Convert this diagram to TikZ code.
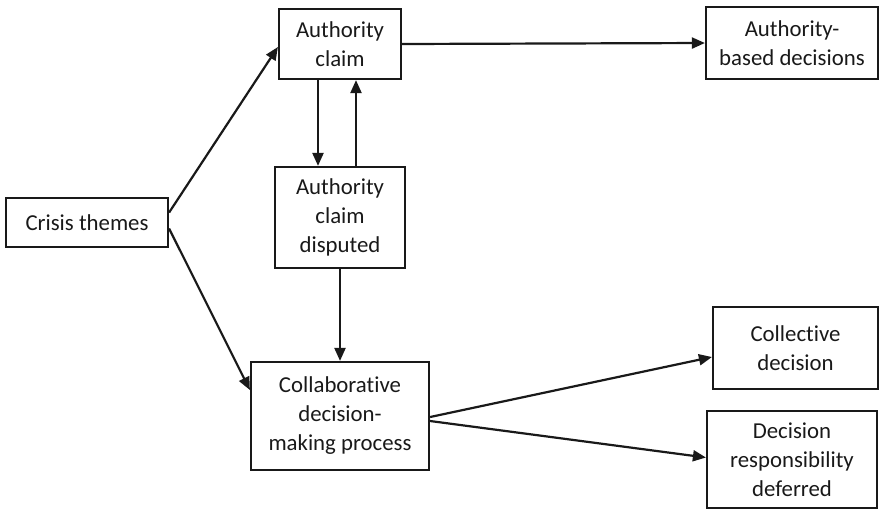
\documentclass[tikz,border=0pt]{standalone}
\usepackage{fontspec}
\setmainfont{Carlito}[Ligatures={NoCommon}]
\usetikzlibrary{arrows.meta}

\begin{document}
\begin{tikzpicture}[%
      x=0.5pt, y=-0.5pt,
      box/.style={draw=black!90, line width=1.1pt, align=center, inner sep=0pt,
        font=\fontsize{11.4}{14.5}\selectfont, text=black!90},
      arr/.style={draw=black!90, line width=1.1pt, -{Triangle[length=6.5pt,width=5.5pt]}},
      ]
      \useasboundingbox (0,0) rectangle (882,510);

      \node[box, minimum width=81pt, minimum height=24.5pt] (crisis) at (87,222.5) {Crisis themes};
      \node[box, minimum width=61pt, minimum height=35pt] (claim) at (340,44) {Authority\\claim};
      \node[box, minimum width=86pt, minimum height=36pt] (based) at (792,43) {Authority-\\based decisions};
      \node[box, minimum width=65pt, minimum height=50.5pt] (disputed) at (340,217.5) {Authority\\claim\\disputed};
      \node[box, minimum width=89pt, minimum height=54pt] (collab) at (340,416) {Collaborative\\decision-\\making process};
      \node[box, minimum width=82.5pt, minimum height=41pt] (collective) at (795.5,348) {Collective\\decision};
      \node[box, minimum width=85pt, minimum height=48.5pt] (deferred) at (792,459.5) {Decision\\responsibility\\deferred};

      % from the themes
      \draw[arr] ([yshift=5pt]crisis.east) -- ([yshift=-1.5pt]claim.west);
      \draw[arr] ([yshift=-3pt]crisis.east) -- ([yshift=13pt]collab.west);

      % authority path
      \draw[arr] (claim.east) -- (based.west);
      \draw[arr] ([xshift=-11pt]claim.south) -- ([xshift=-11pt]claim.south |- disputed.north);
      \draw[arr] ([xshift=8pt]claim.south |- disputed.north) -- ([xshift=8pt]claim.south);
      \draw[arr] (disputed.south) -- (collab.north);

      % outcomes of collaboration
      \draw[arr] ([yshift=-0.5pt]collab.east) -- ([yshift=-4.5pt]collective.west);
      \draw[arr] ([yshift=-2.5pt]collab.east) -- ([yshift=1pt]deferred.west);
\end{tikzpicture}
\end{document}
